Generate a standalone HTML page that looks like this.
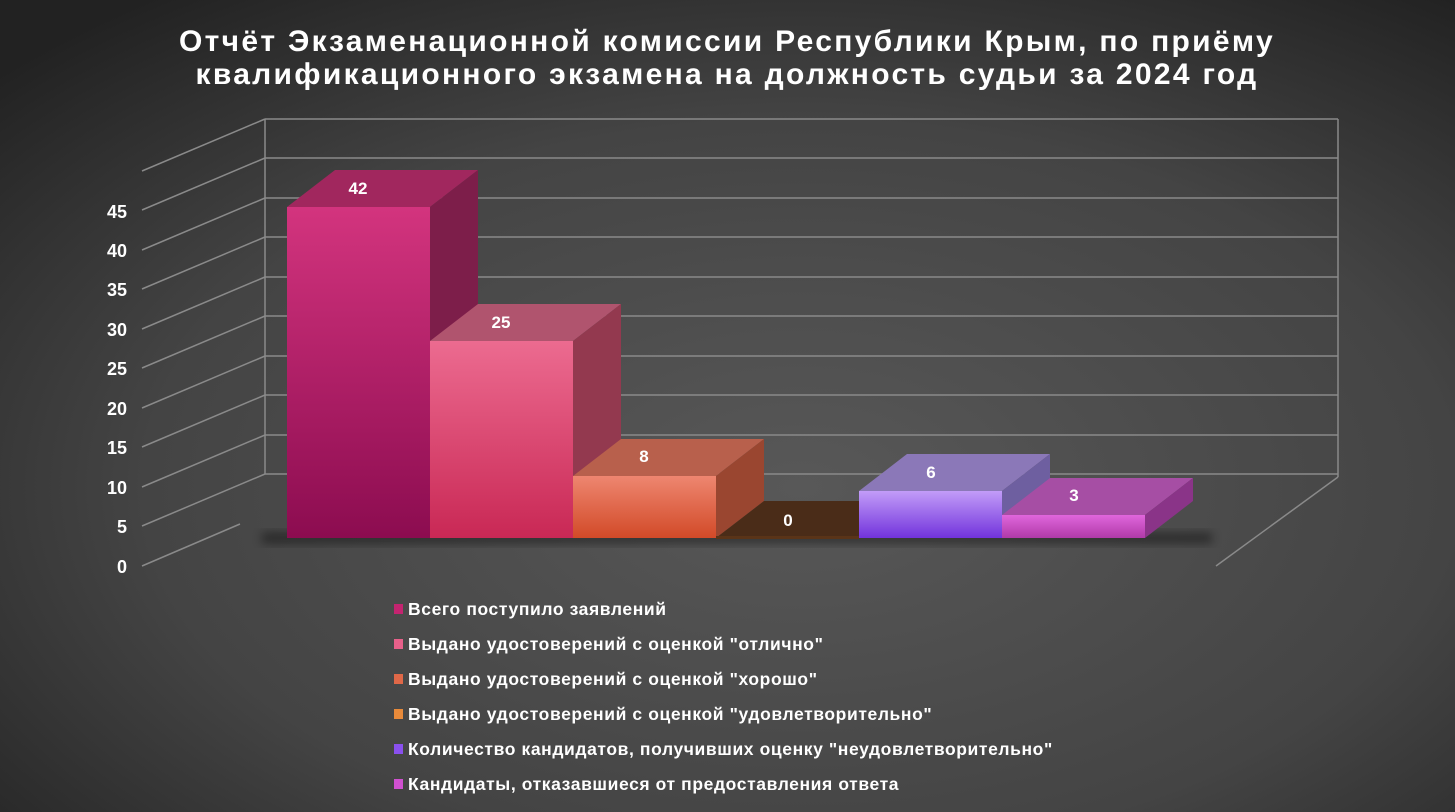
<!DOCTYPE html>
<html><head><meta charset="utf-8"><style>
html,body{margin:0;padding:0;width:1455px;height:812px;overflow:hidden;background:#3a3a3a}
svg{display:block}
text{font-family:"Liberation Sans","DejaVu Sans",sans-serif;fill:#fff;font-weight:bold}
</style></head><body>
<svg width="1455" height="812" viewBox="0 0 1455 812" xmlns="http://www.w3.org/2000/svg">
<defs>
<radialGradient id="bg" cx="0.55" cy="0.6" r="0.75">
<stop offset="0" stop-color="#585858"/><stop offset="0.6" stop-color="#444"/><stop offset="1" stop-color="#222"/>
</radialGradient>
<linearGradient id="f1" x1="0" y1="0" x2="0" y2="1"><stop offset="0" stop-color="#d3347e"/><stop offset="1" stop-color="#8c0c50"/></linearGradient>
<linearGradient id="f2" x1="0" y1="0" x2="0" y2="1"><stop offset="0" stop-color="#ec6b90"/><stop offset="1" stop-color="#c92855"/></linearGradient>
<linearGradient id="f3" x1="0" y1="0" x2="0" y2="1"><stop offset="0" stop-color="#ee8670"/><stop offset="1" stop-color="#d24a28"/></linearGradient>
<linearGradient id="f5" x1="0" y1="0" x2="0" y2="1"><stop offset="0" stop-color="#c29cf8"/><stop offset="1" stop-color="#7233dc"/></linearGradient>
<linearGradient id="f6" x1="0" y1="0" x2="0" y2="1"><stop offset="0" stop-color="#e066dc"/><stop offset="1" stop-color="#b03aa8"/></linearGradient>
<filter id="sh" x="-20%" y="-50%" width="140%" height="200%"><feGaussianBlur stdDeviation="5"/></filter>
</defs>
<rect width="1455" height="812" fill="url(#bg)"/>
<text x="727" y="51" font-size="30" text-anchor="middle" letter-spacing="2.3">Отчёт Экзаменационной комиссии Республики Крым, по приёму</text>
<text x="727" y="84" font-size="30" text-anchor="middle" letter-spacing="2.3">квалификационного экзамена на должность судьи за 2024 год</text>
<g stroke="#8a8a8a" stroke-width="1.5" fill="none">
<line x1="265" y1="119" x2="1338" y2="119"/>
<line x1="265" y1="119" x2="265" y2="474"/>
<line x1="1338" y1="119" x2="1338" y2="477"/>
<line x1="1338" y1="477" x2="1216" y2="566"/>
<line x1="142" y1="171" x2="265" y2="119"/>
<line x1="265" y1="158" x2="1338" y2="158"/><line x1="142" y1="210" x2="265" y2="158"/>
<line x1="265" y1="198" x2="1338" y2="198"/><line x1="142" y1="250" x2="265" y2="198"/>
<line x1="265" y1="237" x2="1338" y2="237"/><line x1="142" y1="289" x2="265" y2="237"/>
<line x1="265" y1="277" x2="1338" y2="277"/><line x1="142" y1="329" x2="265" y2="277"/>
<line x1="265" y1="316" x2="1338" y2="316"/><line x1="142" y1="368" x2="265" y2="316"/>
<line x1="265" y1="356" x2="1338" y2="356"/><line x1="142" y1="408" x2="265" y2="356"/>
<line x1="265" y1="395" x2="1338" y2="395"/><line x1="142" y1="447" x2="265" y2="395"/>
<line x1="265" y1="435" x2="1338" y2="435"/><line x1="142" y1="487" x2="265" y2="435"/>
<line x1="265" y1="474" x2="1338" y2="474"/><line x1="142" y1="526" x2="265" y2="474"/>
<line x1="142" y1="566" x2="240" y2="524"/>
</g>
<g font-size="18" text-anchor="end">
<text x="127" y="218">45</text><text x="127" y="257">40</text><text x="127" y="296">35</text>
<text x="127" y="336">30</text><text x="127" y="375">25</text><text x="127" y="415">20</text>
<text x="127" y="454">15</text><text x="127" y="494">10</text><text x="127" y="533">5</text>
<text x="127" y="573">0</text>
</g>
<rect x="262" y="533" width="950" height="10" fill="#000" opacity="0.45" filter="url(#sh)"/>
<!-- bar1 -->
<polygon points="287,207 430,207 478,170 335,170" fill="#a1275e"/>
<polygon points="430,207 478,170 478,501 430,538" fill="#7d1e4a"/>
<rect x="287" y="207" width="143" height="331" fill="url(#f1)"/>
<!-- bar2 -->
<polygon points="430,341 573,341 621,304 478,304" fill="#b0546e"/>
<polygon points="573,341 621,304 621,501 573,538" fill="#93394f"/>
<rect x="430" y="341" width="143" height="197" fill="url(#f2)"/>
<!-- bar3 -->
<polygon points="573,476 716,476 764,439 621,439" fill="#b8604c"/>
<polygon points="716,476 764,439 764,501 716,538" fill="#9a4630"/>
<rect x="573" y="476" width="143" height="62" fill="url(#f3)"/>
<!-- bar4 zero -->
<polygon points="716,538 859,538 907,501 764,501" fill="#4a2c18"/>
<rect x="716" y="536" width="143" height="3" fill="#5a3418"/>
<!-- bar5 -->
<polygon points="859,491 1002,491 1050,454 907,454" fill="#8b78b8"/>
<polygon points="1002,491 1050,454 1050,501 1002,538" fill="#6e5fa0"/>
<rect x="859" y="491" width="143" height="47" fill="url(#f5)"/>
<!-- bar6 -->
<polygon points="1002,515 1145,515 1193,478 1050,478" fill="#a64ea4"/>
<polygon points="1145,515 1193,478 1193,501 1145,538" fill="#8a3488"/>
<rect x="1002" y="515" width="143" height="23" fill="url(#f6)"/>
<g font-size="17" text-anchor="middle">
<text x="358" y="194">42</text><text x="501" y="328">25</text><text x="644" y="462">8</text>
<text x="788" y="526">0</text><text x="931" y="478">6</text><text x="1074" y="501">3</text>
</g>
<g font-size="17.5" letter-spacing="0.6">
<rect x="394" y="604" width="9" height="10" fill="#c42470"/><text x="408" y="615">Всего поступило заявлений</text>
<rect x="394" y="639" width="9" height="10" fill="#e8608a"/><text x="408" y="650">Выдано удостоверений с оценкой "отлично"</text>
<rect x="394" y="674" width="9" height="10" fill="#e06848"/><text x="408" y="685">Выдано удостоверений с оценкой "хорошо"</text>
<rect x="394" y="709" width="9" height="10" fill="#e88a3a"/><text x="408" y="720">Выдано удостоверений с оценкой "удовлетворительно"</text>
<rect x="394" y="744" width="9" height="10" fill="#8a50ee"/><text x="408" y="755">Количество кандидатов, получивших оценку "неудовлетворительно"</text>
<rect x="394" y="779" width="9" height="10" fill="#d050d0"/><text x="408" y="790">Кандидаты, отказавшиеся от предоставления ответа</text>
</g>
</svg>
</body></html>
